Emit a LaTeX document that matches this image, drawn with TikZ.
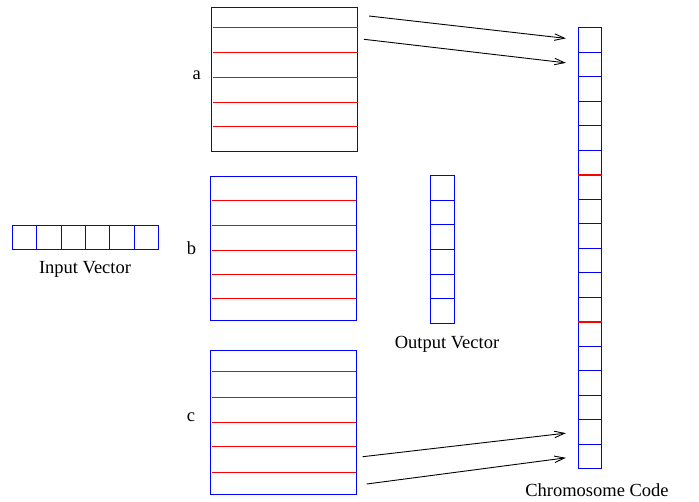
\documentclass[tikz,border=0pt]{standalone}
\usepackage{fontspec}
\setmainfont{Liberation Serif}
\usetikzlibrary{arrows.meta}

\tikzset{
  cell/.style={draw=blue, line width=1pt, inner sep=0pt,
    minimum width=#1, minimum height=24.5pt},
  matbox/.style={draw=blue, line width=1pt, inner sep=0pt,
    minimum width=145.8pt, minimum height=144pt},
  rowline/.style={red, line width=1.5pt},
  map/.style={line width=0.9pt, -{Straight Barb[length=10pt,width=6.5pt]},
    shorten >=12pt},
  caption/.style={font=\fontsize{18.5}{22}\selectfont, inner sep=0pt}
}

\begin{document}
\begin{tikzpicture}[x=1pt, y=-1pt]
  \useasboundingbox (0,0) rectangle (699,501);

  % Input vector
  \foreach \i in {1,...,6}
    \node[cell=24.3pt, minimum height=24pt] (in\i) at ({12.7+24.27*(\i-0.5)},237) {};
  \node[caption] (inlabel) at (85,269) {Input Vector};

  % Weight matrices
  \node[matbox] (a) at (284.5,79) {};
  \node[matbox] (b) at (283.2,248) {};
  \node[matbox] (c) at (283.4,422.5) {};
  \foreach \y in {27.5,52.5,77.5,102.5,126.5}
    \draw[rowline] (213,\y) -- (357.5,\y);
  \foreach \y in {200.5,225.5,250.5,274.5,298.5}
    \draw[rowline] (211.5,\y) -- (356,\y);
  \foreach \y in {371.5,397.5,422.5,446.5,472.5}
    \draw[rowline] (211.5,\y) -- (356,\y);
  \node[caption] (alabel) at (196.7,75.5) {a};
  \node[caption] (blabel) at (191.5,248) {b};
  \node[caption] (clabel) at (191,417) {c};

  % Output vector
  \foreach \i in {1,...,6}
    \node[cell=24.7pt, minimum height=24.6pt] (out\i) at (442.4,{175.7+24.6*(\i-0.5)}) {};
  \node[caption] (outlabel) at (447,344) {Output Vector};

  % Chromosome code
  \foreach \i in {1,...,18}
    \node[cell=23.4pt] (g\i) at (590,{27.5+24.5*(\i-0.5)}) {};
  \draw[rowline] (g6.south west) -- (g6.south east);
  \draw[rowline] (g12.south west) -- (g12.south east);
  \node[caption] (glabel) at (597,490.5) {Chromosome Code};

  % Mapping arrows
  \coordinate (a1) at (369,16);
  \coordinate (a2) at (364,39.3);
  \coordinate (c5) at (362.7,456.7);
  \coordinate (c6) at (366.7,484);
  \draw[map] (a1) -- (g1.west);
  \draw[map] (a2) -- (g2.west);
  \draw[map] (c5) -- (g17.west);
  \draw[map] (c6) -- (g18.west);
\end{tikzpicture}
\end{document}
